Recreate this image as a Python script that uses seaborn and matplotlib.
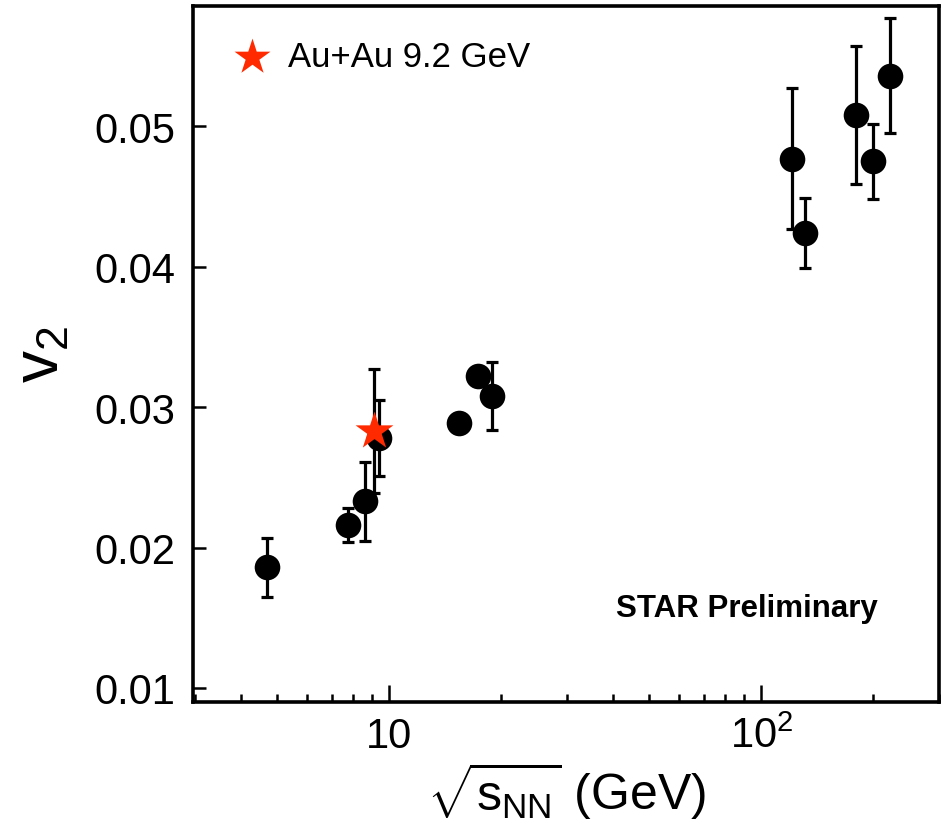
import numpy as np
import pandas as pd
import matplotlib
matplotlib.use('Agg')
import matplotlib.pyplot as plt
import seaborn as sns

# values
energy = [4.7, 7.76, 8.6, 9.36, 15.4, 17.3, 18.9, 120.5, 130.6, 180, 200, 222]
v2 = [0.0186, 0.0216, 0.0233, 0.0278, 0.0289, 0.0322, 0.0308,
      0.0477, 0.0424, 0.0508, 0.0475, 0.0536]
v2_err = [0.0021, 0.0012, 0.0028, 0.0027, 0.0006, 0.0006, 0.0024,
          0.0050, 0.0025, 0.0049, 0.0027, 0.0041]

# Au+Au 9.2 GeV point
star_energy = [9.08]
star_v2 = [0.0283]
star_err = [0.0044]

x_ticks = [10, 100]
x_ticklabels = ['10', r'$10^2$']
y_ticks = [0.01, 0.02, 0.03, 0.04, 0.05]
y_ticklabels = ['0.01', '0.02', '0.03', '0.04', '0.05']

df = pd.DataFrame({'energy': energy, 'v2': v2, 'err': v2_err})
df_star = pd.DataFrame({'energy': star_energy, 'v2': star_v2, 'err': star_err})

sns.set_style('ticks')
plt.rcParams['font.family'] = ['Liberation Sans', 'DejaVu Sans']
plt.rcParams['mathtext.fontset'] = 'custom'
plt.rcParams['mathtext.rm'] = 'Liberation Sans'
plt.rcParams['mathtext.it'] = 'Liberation Sans:italic'
plt.rcParams['text.color'] = 'black'
plt.rcParams['axes.labelcolor'] = 'black'

fig = plt.figure(figsize=(9.44, 8.29), dpi=100)
ax = fig.add_axes([0.2045, 0.152, 0.7902, 0.840])

# error bars
ax.errorbar(df['energy'], df['v2'], yerr=df['err'], fmt='none',
            ecolor='black', elinewidth=2.3, capsize=4.5, capthick=2.3, zorder=2)
ax.errorbar(df_star['energy'], df_star['v2'], yerr=df_star['err'], fmt='none',
            ecolor='black', elinewidth=2.3, capsize=4.5, capthick=2.3, zorder=2)

sns.scatterplot(data=df, x='energy', y='v2', ax=ax, color='black', marker='o',
                s=340, edgecolor='black', linewidth=0, zorder=3)
sns.scatterplot(data=df_star, x='energy', y='v2', ax=ax, color='#ff2a00', marker='*',
                s=820, edgecolor='#ff2a00', linewidth=0, zorder=4,
                label='Au+Au 9.2 GeV')

ax.set_xscale('log')
ax.set_xlim(2.97, 300)
ax.set_ylim(0.009, 0.0586)
ax.set_xticks(x_ticks)
ax.set_xticklabels(x_ticklabels)
ax.set_yticks(y_ticks)
ax.set_yticklabels(y_ticklabels)
ax.yaxis.set_minor_locator(matplotlib.ticker.NullLocator())
ax.xaxis.set_minor_formatter(matplotlib.ticker.NullFormatter())

ax.tick_params(axis='both', which='both', direction='in', top=False, right=False,
               width=1.8, colors='black', labelcolor='black')
ax.tick_params(axis='x', which='major', length=12, labelsize=30, pad=10)
ax.tick_params(axis='x', which='minor', length=6)
ax.tick_params(axis='y', which='major', length=9, labelsize=30, pad=13)

for sp in ax.spines.values():
    sp.set_linewidth(2.6)
    sp.set_color('black')

ax.set_xlabel(r'$\sqrt{\mathrm{s}_{\mathrm{NN}}}$ (GeV)', fontsize=36, labelpad=2)
ax.set_ylabel(r'$\mathrm{v}_2$', fontsize=46, labelpad=16)

ax.text(0.567, 0.135, 'STAR Preliminary', transform=ax.transAxes,
        fontsize=22.5, fontweight='bold', ha='left', va='center')

ax.legend(loc='upper left', bbox_to_anchor=(-0.005, 0.99), frameon=False,
          fontsize=25, handletextpad=0.05, borderaxespad=0.4, markerscale=0.95)

fig.savefig('out.png', dpi=100)
